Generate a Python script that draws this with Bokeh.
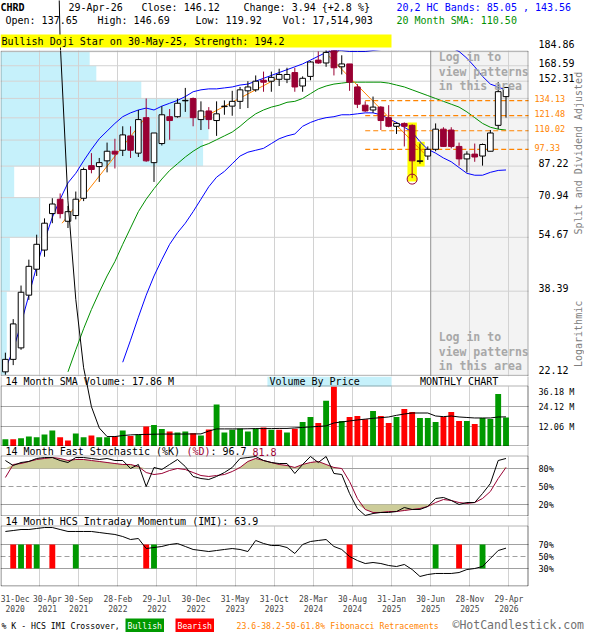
import numpy as np
from bokeh.plotting import figure
from bokeh.models import Range1d, FixedTicker, Label, BoxAnnotation, LinearScale
from bokeh.layouts import column
from bokeh.embed import file_html
from bokeh.resources import INLINE

# ---------------- data (monthly, Dec-2020 .. Apr-2026) ----------------
opens = [22.61, 24.54, 26.46, 37.40, 44.34, 50.28, 63.88, 70.20, 60.74, 63.08,
         70.65, 87.51, 86.96, 90.31, 96.18, 96.79, 106.38, 94.98, 119.89, 89.24,
         101.15, 120.65, 120.65, 133.90, 135.98, 118.39, 125.30, 117.65, 128.90, 129.31,
         133.44, 142.98, 143.91, 153.26, 152.30, 154.23, 154.23, 161.19, 147.58, 157.18,
         174.93, 171.66, 186.30, 167.39, 170.58, 146.66, 130.13, 126.08, 128.49, 119.89,
         113.29, 115.45, 114.00, 90.00, 93.20, 97.41, 111.17, 110.55, 99.26, 91.46,
         94.39, 93.20, 96.18, 114.00, 137.65]
highs = [25.64, 31.96, 39.84, 47.22, 55.62, 61.90, 70.65, 72.91, 67.18, 73.83,
         86.42, 94.98, 92.03, 101.80, 104.39, 113.29, 113.29, 126.08, 135.98, 108.41,
         129.31, 126.88, 135.98, 145.74, 136.84, 133.44, 128.49, 133.44, 134.28, 142.98,
         146.66, 152.30, 158.17, 162.20, 162.20, 165.30, 166.35, 166.35, 157.18, 173.83,
         185.13, 187.48, 186.30, 180.53, 170.58, 149.45, 133.44, 137.71, 129.31, 130.13,
         116.18, 116.18, 114.72, 101.15, 99.26, 115.45, 112.58, 112.58, 101.80, 96.18,
         101.15, 101.15, 110.55, 151.35, 146.69]
lows = [22.18, 23.63, 26.13, 36.25, 42.42, 48.12, 59.98, 61.90, 58.12, 61.51,
        69.33, 83.21, 78.63, 83.74, 85.88, 93.20, 92.03, 92.62, 89.75, 78.63,
        99.89, 103.73, 119.89, 124.50, 113.29, 110.55, 111.17, 106.38, 122.18, 121.41,
        126.88, 127.68, 142.11, 142.11, 142.11, 147.58, 150.40, 142.11, 142.11, 153.26,
        170.58, 167.39, 158.17, 159.17, 142.98, 127.68, 124.50, 123.72, 110.55, 112.58,
        107.73, 99.26, 80.63, 88.62, 90.85, 96.18, 98.95, 98.02, 87.51, 83.74,
        89.75, 87.51, 96.18, 111.17, 119.92]
closes = [24.54, 30.97, 38.12, 45.19, 52.22, 59.98, 68.03, 63.88, 64.69, 70.20,
          85.33, 85.33, 89.24, 96.18, 94.39, 107.07, 96.79, 118.39, 90.31, 108.41,
          122.18, 117.65, 131.77, 134.28, 119.89, 125.30, 118.39, 122.95, 129.31, 133.44,
          143.91, 146.66, 152.30, 151.35, 156.19, 159.17, 159.17, 146.66, 155.22, 172.74,
          171.66, 183.97, 166.35, 170.58, 151.35, 130.94, 125.30, 128.49, 117.65, 113.29,
          115.45, 113.29, 90.31, 90.31, 97.41, 111.17, 99.26, 99.26, 91.46, 94.39,
          92.62, 100.52, 108.41, 142.18, 146.12]

nan = float("nan")
band_upper = [23.04, 26.13, 30.97, 37.40, 45.19, 53.56, 62.29, 70.20, 78.14, 83.21,
              90.31, 97.41, 104.39, 109.78, 115.45, 120.65, 123.72, 126.08, 127.68, 126.08,
              129.31, 131.77, 134.28, 137.71, 142.11, 143.91, 144.82, 144.82, 145.74, 146.66,
              148.52, 149.45, 152.30, 155.22, 158.17, 161.19, 164.26, 167.39, 170.58, 174.93,
              179.40, 183.97, 186.30, 186.30, 185.13, 185.13, 185.13, 186.30, 187.48, 189.85,
              192.26, 194.69, 195.92, 195.92, 195.92, 193.47, 191.05, 189.85, 185.13, 177.15,
              167.39, 157.18, 149.45, 146.66, 143.56]
band_lower = [nan] * 15 + [24.08, 27.83, 32.37, 37.40, 42.42, 47.22, 52.22, 56.32, 59.98, 64.69,
              70.20, 76.19, 81.14, 84.27, 88.62, 93.20, 95.58, 96.79, 98.02, 101.15,
              104.39, 106.38, 107.73, 113.29, 116.18, 118.39, 119.89, 120.65, 122.18, 122.18,
              122.95, 123.72, 123.72, 122.18, 119.14, 116.18, 112.58, 109.09, 102.44, 97.41,
              94.98, 92.03, 89.75, 86.42, 83.21, 82.17, 82.17, 83.74, 84.80, 85.05]
sma20 = [nan] * 8 + [22.61, 26.13, 30.01, 34.04, 38.12, 42.42, 46.63, 52.22, 58.12, 64.69,
         70.20, 75.24, 80.13, 84.80, 88.62, 92.62, 96.18, 99.26, 101.15, 103.73,
         106.38, 109.09, 113.29, 118.39, 122.95, 126.08, 128.49, 130.13, 132.60, 133.44,
         135.98, 140.33, 144.82, 147.58, 149.45, 150.40, 151.35, 151.35, 151.35, 151.35,
         151.35, 150.40, 148.52, 146.66, 143.91, 141.22, 138.58, 135.98, 133.44, 130.94,
         128.49, 124.51, 119.89, 115.45, 112.58, 111.17, 110.50]

# trend lines (month index, price)
trend1_x = [7.25, 17.9]
trend1_y = [59.98, 119.89]
trend2_x = [25.25, 35.25]
trend2_y = [119.89, 157.18]
trend3_x = [41.0, 53.5]
trend3_y = [182.82, 94.98]

fib_levels = [134.13, 121.48, 110.02, 97.33]
fib_start = 46

price_grid = [22.12, 38.39, 54.67, 70.94, 87.22, 103.49, 119.77, 136.04, 152.31, 168.59, 184.86]
price_labels = [22.12, 38.39, 54.67, 70.94, 87.22, 152.31, 168.59, 184.86]

# volume by price: bins (low, high) and bar length in months
vbp_low = [22.12, 38.39, 54.67, 70.94, 87.22, 103.49, 119.77, 136.04, 152.31, 168.59]
vbp_high = [38.39, 54.67, 70.94, 87.22, 103.49, 119.77, 136.04, 152.31, 168.59, 184.86]
vbp_len = [0.8, 1.2, 5.1, 1.75, 25.9, 26.6, 25.0, 18.0, 12.25, 11.4]

volume = [4.4, 4.4, 5.0, 6.0, 5.6, 7.2, 9.6, 5.6, 3.6, 7.8,
          5.6, 6.6, 5.6, 5.6, 6.0, 9.6, 6.4, 7.2, 12.1, 12.9,
          10.5, 9.0, 8.4, 9.0, 8.0, 6.6, 10.3, 25.3, 8.4, 10.1,
          10.9, 9.0, 10.9, 11.5, 10.1, 10.1, 8.4, 10.7, 14.7, 17.8,
          14.2, 27.6, 36.1, 15.4, 17.8, 18.4, 16.4, 21.4, 18.4, 14.2,
          17.8, 22.6, 20.8, 17.2, 17.2, 14.8, 17.8, 20.8, 15.4, 15.4,
          13.6, 17.2, 16.6, 31.7, 17.51]
vol_up = "gr" + "ggggg" + "rrgg" + "rggrgrgrgg" + "rggrgrggggg" + "grgrgrgg" + "rgrgrrrgrrgrrgggrrrgrgggg"
vol_sma = [nan] * 6 + [480, 253, 153, 91, 48, 24, 11.2, 6.0, 6.0, 6.6, 7.0, 7.2, 7.3, 7.4,
           7.5, 7.5, 7.5, 7.5, 7.6, 7.6, 9.3, 10.6, 10.6, 10.6, 10.6, 10.7, 10.8, 10.8,
           10.8, 10.9, 10.9, 11.2, 11.5, 11.8, 12.1, 12.4, 14.2, 14.8, 15.4, 16.0, 16.5,
           17.0, 17.4, 17.8, 18.8, 19.6, 20.2, 20.2, 20.2, 18.4, 18.0, 18.4, 17.8, 17.5,
           17.2, 17.2, 17.2, 17.8, 17.86]
vol_labels = [12.06, 24.12, 36.18]

stoch_k = [93.3, 85.0, 90.0, 91.7, 96.7, 98.3, 98.3, 93.3, 90.0, 98.3,
           98.3, 96.7, 95.0, 96.7, 93.3, 93.3, 80.0, 86.7, 50.0, 81.7,
           78.3, 86.7, 95.0, 83.3, 66.7, 63.3, 61.7, 66.7, 73.3, 81.7,
           96.7, 98.3, 100.0, 93.3, 90.0, 88.3, 88.3, 71.7, 86.7, 100.0,
           90.0, 100.0, 71.7, 70.0, 38.3, 13.3, 1.7, 5.0, 6.7, 6.7,
           8.3, 15.0, 11.7, 11.7, 16.7, 30.0, 31.7, 26.7, 20.0, 23.3,
           23.3, 38.3, 55.0, 93.3, 96.7]
stoch_d = [65.0, 86.7, 88.3, 91.7, 95.0, 96.7, 98.3, 96.7, 93.3, 95.0,
           95.0, 93.3, 91.7, 90.0, 88.3, 86.7, 86.7, 83.3, 73.3, 70.0,
           71.7, 76.7, 80.0, 78.3, 73.3, 68.3, 66.7, 68.3, 70.0, 75.0,
           81.7, 91.7, 96.7, 93.3, 90.0, 86.7, 85.0, 81.7, 86.7, 90.0,
           91.7, 86.7, 81.7, 80.0, 58.3, 30.0, 11.7, 6.7, 6.7, 8.3,
           8.3, 10.0, 11.7, 13.3, 16.7, 23.3, 28.3, 26.7, 23.3, 21.7,
           23.3, 30.0, 41.7, 63.3, 81.8]
stoch_levels = [20, 50, 80]

imi = [91.7, 93.3, 95.0, 95.0, 96.7, 98.3, 98.3, 95.0, 91.7, 91.7,
       91.7, 91.7, 90.0, 88.3, 86.7, 83.3, 78.3, 80.0, 63.3, 65.0,
       66.7, 70.0, 71.7, 66.7, 61.7, 60.0, 58.3, 60.0, 61.7, 63.3,
       61.7, 58.3, 76.7, 71.7, 68.3, 68.3, 65.0, 55.0, 70.0, 75.0,
       76.7, 78.3, 66.7, 61.7, 50.0, 43.3, 38.3, 40.0, 38.3, 35.0,
       33.3, 36.7, 28.3, 16.7, 20.0, 21.7, 21.7, 21.7, 23.3, 28.3,
       30.0, 33.3, 46.7, 60.0, 63.9]
imi_bull = [2, 4, 9, 19, 55, 61]
imi_bear = [1, 3, 6, 18, 44, 58]
imi_levels = [30, 50, 70]

xtick_pos = [1.25, 5.375, 9.375, 14.375, 19.375, 24.375, 29.375, 34.375, 39.375,
             44.375, 49.375, 54.375, 59.375, 64.375]
xtick_text = ["31-Dec\n2020", "30-Apr\n2021", "30-Sep\n2021", "28-Feb\n2022", "29-Jul\n2022",
              "30-Dec\n2022", "31-May\n2023", "31-Oct\n2023", "28-Mar\n2024", "30-Aug\n2024",
              "31-Jan\n2025", "30-Jun\n2025", "28-Nov\n2025", "29-Apr\n2026"]

# ---------------- styling ----------------
MONO = "DejaVu Sans Mono"
MAROON = "#990033"
GREEN = "#009900"
REDV = "#ff0000"
BLUE = "#0000ff"
SMAG = "#008f00"
ORANGE = "#ff8400"
CYAN = "#c6f1fb"
KHAKI = "#cccc99"
GRIDC = "#d2d2d2"
LEVC = "#a0a0a0"
PW = 528                 # width of the plotting area
CW = 584                 # canvas width (plot + label column)
X0, X1 = -0.625, 66.875  # data extent of plotting area
XEND = X0 + CW * (X1 - X0) / PW
N = len(closes)
idx = np.arange(N)
xr = Range1d(X0, XEND)
grid_x = [4.375 + 5 * k for k in range(13)]
LX = PW + 10             # x of right-hand tick texts


def lab(p, x, y, text, color="black", size="10px", bold=False, xu="screen", yu="screen",
        align="left", baseline="middle", angle=0.0, bg=None, pad=0):
    kw = dict(x=x, y=y, x_units=xu, y_units=yu, text=text, text_color=color,
              text_font_size=size, text_font=MONO, text_align=align,
              text_baseline=baseline, angle=angle,
              text_font_style="bold" if bold else "normal")
    if bg is not None:
        kw["background_fill_color"] = bg
    if pad:
        kw["padding"] = pad
    p.add_layout(Label(**kw))


def mk(h, yr, ytype="linear", xloc=None):
    p = figure(frame_width=CW, frame_height=h, x_range=xr, y_range=yr, y_axis_type=ytype,
               x_axis_location=xloc, y_axis_location=None,
               toolbar_location=None, output_backend="svg",
               min_border_left=0, min_border_right=0, min_border_top=0, min_border_bottom=0)
    p.background_fill_color = "white"
    p.border_fill_color = "white"
    p.outline_line_color = None
    p.xgrid.ticker = FixedTicker(ticks=grid_x)
    p.xgrid.grid_line_color = GRIDC
    p.ygrid.visible = False
    return p


def box(p, bottom, top, **kw):
    p.add_layout(BoxAnnotation(left=0.5, right=PW - 0.5, bottom=bottom, top=top,
                               left_units="screen", right_units="screen",
                               bottom_units="screen", top_units="screen",
                               fill_color=None, line_color="black", line_width=1, **kw))


def hlines(p, ys, color, dash="solid"):
    r = p.segment(x0=[X0] * len(ys), x1=[X1] * len(ys), y0=ys, y1=ys,
                  color=color, line_width=1, line_dash=dash)
    r.level = "underlay"


# ---------------- header ----------------
HEAD_H = 50
MAIN_H = 326
VOL_LO, VOL_HI = 42.5, 247.5
head = mk(HEAD_H, Range1d(VOL_HI, VOL_HI + HEAD_H * (VOL_HI - VOL_LO) / MAIN_H))
head.xgrid.visible = False
head.line(idx, vol_sma, color="black", line_width=1)
r1, r2 = HEAD_H - 7, HEAD_H - 20
lab(head, 0, r1, "CHRD", bold=True)
lab(head, 68, r1, "29-Apr-26")
lab(head, 141, r1, "Close: 146.12")
lab(head, 243, r1, "Change: 3.94 {+2.8 %}")
lab(head, 396, r1, "20,2 HC Bands: 85.05 , 143.56", color=BLUE)
lab(head, 5, r2, "Open: 137.65")
lab(head, 97, r2, "High: 146.69")
lab(head, 195, r2, "Low: 119.92")
lab(head, 282, r2, "Vol: 17,514,903")
lab(head, 396, r2, "20 Month SMA: 110.50", color=SMAG)
head.add_layout(BoxAnnotation(left=0, right=391, bottom=3, top=16, left_units="screen",
                              right_units="screen", bottom_units="screen", top_units="screen",
                              fill_color="#ffff00", fill_alpha=1, line_alpha=0))
lab(head, 1, 9.5, "Bullish Doji Star on 30-May-25, Strength: 194.2")
lab(head, LX, 7, f"{price_labels[-1]:.2f}")

# ---------------- main price panel ----------------
LOG_SPAN = np.log(186.3 / 21.93)
main = mk(MAIN_H, Range1d(21.93, 186.3), ytype="log")
main.extra_y_ranges = {"vol": Range1d(VOL_LO, VOL_HI)}
main.extra_y_scales = {"vol": LinearScale()}

# volume-by-price & locked area (below grid)
r = main.quad(left=[X0] * len(vbp_len), right=[X0 + v for v in vbp_len],
              bottom=vbp_low, top=vbp_high, fill_color=CYAN, line_alpha=0)
r.level = "image"
r = main.quad(left=[54.375], right=[X1], bottom=[21.93], top=[186.3],
              fill_color="#f3f3f3", line_alpha=0)
r.level = "image"
hlines(main, price_grid, GRIDC)
main.line([54.375, 54.375], [21.93, 186.3], color="#9a9a9a", line_width=1)

# pattern highlight
main.quad(left=[51.4, 52.6], right=[52.6, 53.6], bottom=[78.9, 87.0], top=[116.2, 102.4],
          fill_color="#ffff00", line_alpha=0)

# bands and trend lines
main.line(idx, band_upper, color=BLUE, line_width=1)
main.line(idx, band_lower, color=BLUE, line_width=1)
main.line(idx, sma20, color=SMAG, line_width=1)
for tx, ty in ((trend1_x, trend1_y), (trend2_x, trend2_y), (trend3_x, trend3_y)):
    main.line(tx, ty, color=ORANGE, line_width=1)
for f in fib_levels:
    main.line([fib_start, X1], [f, f], color=ORANGE, line_width=1.2, line_dash="5 3")

# candles
o = np.array(opens); c = np.array(closes); h = np.array(highs); l = np.array(lows)
up = c >= o
main.segment(idx[up], h[up], idx[up], l[up], color="black", line_width=1)
main.segment(idx[~up], h[~up], idx[~up], l[~up], color=MAROON, line_width=1)
main.vbar(x=idx[up], width=0.72, top=np.maximum(o, c)[up], bottom=np.minimum(o, c)[up],
          fill_color="white", line_color="black", line_width=1)
main.vbar(x=idx[~up], width=0.72, top=np.maximum(o, c)[~up], bottom=np.minimum(o, c)[~up],
          fill_color=MAROON, line_color=MAROON, line_width=1)
main.scatter([42, 52], [188.6, 80.1], marker="circle", size=10, fill_alpha=0,
             line_color=MAROON, line_width=1)

# volume SMA spilling over the price panel
main.line(idx, vol_sma, color="black", line_width=1, y_range_name="vol")
box(main, 0.5, MAIN_H - 0.5)

# right-hand texts
lift = np.exp(3.0 * LOG_SPAN / MAIN_H)
for v in price_labels[1:-1]:
    lab(main, LX, v * lift, f"{v:.2f}", yu="data")
lab(main, LX, 7, f"{price_labels[0]:.2f}")
for f in fib_levels:
    lab(main, PW + 6, f * lift ** 0.7, f"{f:.2f}", color=ORANGE, size="8.5px", yu="data")
for yv, t in ((178.3, "Log in to"), (162.2, "view patterns"), (147.6, "in this area"),
              (28.36, "Log in to"), (25.8, "view patterns"), (23.48, "in this area")):
    lab(main, 55.4, yv, t, color="#a8a8a8", size="11.5px", bold=True, xu="data", yu="data")
lab(main, CW - 6, 95.0, "Split and Dividend Adjusted", color="#808080", size="10px",
    yu="data", align="center", angle=np.pi / 2)
lab(main, CW - 6, 29.0, "Logarithmic", color="#808080", size="10px",
    yu="data", align="center", angle=np.pi / 2)

# ---------------- lower panels ----------------
PANEL_H = 70
DATA_H = 60


def lower(top_data, title_parts, xloc=None):
    band_top = top_data * PANEL_H / DATA_H
    p = mk(PANEL_H, Range1d(0, band_top), xloc=xloc)
    p.xgrid.level = "image"
    p.add_layout(BoxAnnotation(bottom=top_data, fill_color="white", fill_alpha=1,
                               line_alpha=0, level="underlay"))
    box(p, 0.5, PANEL_H + 2)
    box(p, 0.5, DATA_H + 0.5)
    mid = (top_data + band_top) / 2
    for xpos, txt, col in title_parts:
        lab(p, xpos, mid, txt, color=col, yu="data")
    return p


VTOP = vol_labels[-1]
vol = lower(VTOP, [(5, "14 Month SMA Volume: 17.86 M", "black")])
vol.add_layout(BoxAnnotation(left=33.5, right=49.375, bottom=VTOP, fill_color=CYAN,
                             fill_alpha=1, line_alpha=0, level="underlay"))
lab(vol, 33.75, VTOP * 13 / 12, "Volume By Price", xu="data", yu="data")
lab(vol, 58.0, VTOP * 13 / 12, "MONTHLY CHART", xu="data", yu="data", align="center")
hlines(vol, vol_labels[:2], "#a8a8a8")
vcols = [GREEN if ch == "g" else REDV for ch in vol_up]
vol.vbar(x=idx, top=volume, bottom=0, width=0.75, fill_color=vcols, line_alpha=0)
vol.line(idx, vol_sma, color="black", line_width=1)
for v in vol_labels[:2]:
    lab(vol, LX, v, f"{v:.2f} M", size="8.5px", yu="data")
lab(vol, LX, VTOP, f"{VTOP:.2f} M", size="8.5px", yu="data", baseline="top")

stoch = lower(100, [(5, "14 Month Fast Stochastic (%K) ", "black"), (186, "(%D)", MAROON),
                    (210, ": 96.7", "black"), (252, "81.8", MAROON)])
hlines(stoch, [20, 80], LEVC)
hlines(stoch, [50], LEVC, dash="5 3")
D = np.array(stoch_d)
stoch.varea(x=idx, y1=80, y2=np.maximum(D, 80), fill_color=KHAKI)
stoch.varea(x=idx, y1=20, y2=np.minimum(D, 20), fill_color=KHAKI)
stoch.line(idx, stoch_d, color=MAROON, line_width=1)
stoch.line(idx, stoch_k, color="black", line_width=1)
for v in stoch_levels:
    lab(stoch, LX, v, f"{v}%", size="8.5px", yu="data")

imi_p = lower(100, [(5, "14 Month HCS Intraday Momentum (IMI): 63.9", "black")], xloc="below")
hlines(imi_p, [30, 70], LEVC)
hlines(imi_p, [50], LEVC, dash="5 3")
imi_p.vbar(x=imi_bull, top=70, bottom=30, width=0.75, fill_color=GREEN, line_alpha=0)
imi_p.vbar(x=imi_bear, top=70, bottom=30, width=0.75, fill_color=REDV, line_alpha=0)
imi_p.line(idx, imi, color="black", line_width=1)
for v in imi_levels:
    lab(imi_p, LX, v, f"{v}%", size="8.5px", yu="data")
xa = imi_p.xaxis[0]
xa.ticker = FixedTicker(ticks=xtick_pos)
xa.major_label_overrides = {p: t for p, t in zip(xtick_pos, xtick_text)}
xa.axis_line_color = None
xa.major_tick_line_color = None
xa.minor_tick_line_color = None
xa.major_label_text_font = MONO
xa.major_label_text_font_size = "8px"
xa.major_label_standoff = 2

# ---------------- legend strip ----------------
LEG_H = 15
leg = mk(LEG_H, Range1d(0, 1))
leg.xgrid.visible = False
lab(leg, 1, 7, "% K - HCS IMI Crossover,", size="8.2px")
lab(leg, 125, 7, "Bullish", color="white", size="8.2px", bg=GREEN, pad=2)
lab(leg, 175, 7, "Bearish", color="white", size="8.2px", bg=REDV, pad=2)
lab(leg, 236, 7, "23.6-38.2-50-61.8% Fibonacci Retracements", color=ORANGE, size="8.2px")
lab(leg, 452, 7.5, "\u00a9HotCandlestick.com", color="#707070", size="11.5px")

layout = column(head, main, vol, stoch, imi_p, leg)
open("out.html", "w").write(file_html(layout, INLINE))
